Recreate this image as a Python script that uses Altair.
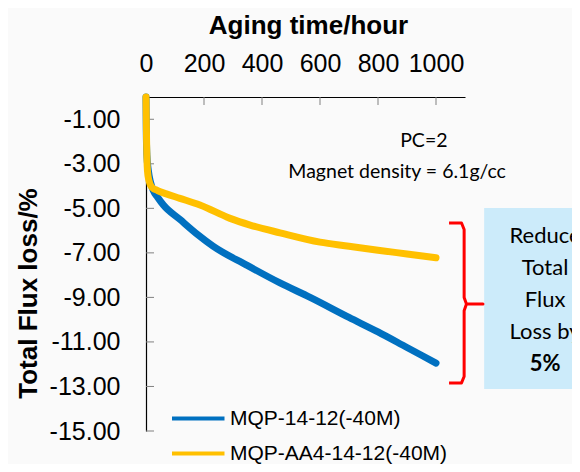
import altair as alt
import pandas as pd

# ---- data ----
series_names = ["MQP-14-12(-40M)", "MQP-AA4-14-12(-40M)"]
series_colors = ["#0070C0", "#FFC000"]

blue_hours = [0, 1, 3, 8, 15, 25, 40, 60, 117, 180, 231, 347, 462, 566, 700, 800, 900, 1000]
blue_loss = [0, -1.5, -2.6, -3.3, -3.8, -4.2, -4.5, -4.85, -5.5, -6.2, -6.7, -7.55, -8.35, -9.0, -9.9, -10.55, -11.25, -11.95]

yellow_hours = [0, 2, 5, 10, 20, 40, 70, 117, 186, 290, 359, 462, 600, 700, 800, 900, 1000]
yellow_loss = [0, -2.0, -3.3, -3.75, -4.05, -4.2, -4.35, -4.55, -4.85, -5.45, -5.75, -6.1, -6.52, -6.7, -6.88, -7.05, -7.22]

x_ticks = [0, 200, 400, 600, 800, 1000]
y_ticks = [-1, -3, -5, -7, -9, -11, -13, -15]

# annotations (data coordinates)
note_text = ["PC=2", "Magnet density = 6.1g/cc"]
note_x = [958, 866]
note_y = [-2.26, -3.65]

box_x = [1166]
box_x2 = [1520]
box_y = [-4.98]
box_y2 = [-13.11]

box_lines = ["Reduce", "Total", "Flux", "Loss by"]
box_lines_y = [-6.56, -7.99, -9.43, -10.87]
box_bold = ["5%"]
box_bold_y = [-12.30]
box_text_x = 1376

bracket_x = [1045, 1088, 1097, 1097, 1105, 1162, 1105, 1097, 1097, 1088, 1045]
bracket_y = [-5.66, -5.66, -5.95, -9.0, -9.30, -9.30, -9.30, -9.6, -12.55, -12.84, -12.84]

# ---- tables ----
df_blue = pd.DataFrame({"hour": blue_hours, "loss": blue_loss, "series": series_names[0]})
df_yellow = pd.DataFrame({"hour": yellow_hours, "loss": yellow_loss, "series": series_names[1]})

x_scale = alt.Scale(domain=[0, 1100], nice=False, zero=False)
y_scale = alt.Scale(domain=[-15, 0], nice=False, zero=False)

legend = alt.Legend(
    title=None, orient="none", legendX=24, legendY=309, direction="vertical",
    symbolType="M-1,0H4", symbolSize=441, symbolStrokeWidth=4,
    labelFont="Liberation Sans", labelFontSize=21, labelColor="black", labelLimit=400,
    labelOffset=35, rowPadding=12, padding=0,
)
color = alt.Color("series:N", scale=alt.Scale(domain=series_names, range=series_colors), legend=legend)

x_axis = alt.Axis(
    orient="top", values=x_ticks, format="d", title="Aging time/hour", ticks=False, labelFlush=False,
    labelFont="Liberation Sans", labelFontSize=25, labelColor="black", labelPadding=21,
    titleFont="Liberation Sans", titleFontSize=26, titleFontWeight="bold", titleColor="black",
    titleX=162, titleY=-64, titleBaseline="alphabetic", titleAlign="center",
    domainColor="black", domainWidth=1.2, grid=False,
)
y_axis = alt.Axis(
    values=y_ticks, title="Total Flux loss/%", ticks=False, labelFlush=False,
    labelExpr="replace(format(datum.value, '.2f'), '\u2212', '-')",
    labelFont="Liberation Sans", labelFontSize=25, labelColor="black", labelPadding=26,
    titleFont="Liberation Sans", titleFontSize=26, titleFontWeight="bold", titleColor="black",
    titleAngle=270, titleX=-118, titleY=196, titleBaseline="middle", titleAlign="center",
    domainColor="black", domainWidth=1.2, grid=False,
)


def X(field):
    return alt.X(field, scale=x_scale, axis=x_axis, title="Aging time/hour")


def Y(field):
    return alt.Y(field, scale=y_scale, axis=y_axis, title="Total Flux loss/%")


base_line = dict(strokeWidth=7, strokeCap="round", strokeJoin="round", interpolate="monotone")

blue = alt.Chart(df_blue).mark_line(**base_line).encode(x=X("hour:Q"), y=Y("loss:Q"), color=color)
yellow = alt.Chart(df_yellow).mark_line(**base_line).encode(x=X("hour:Q"), y=Y("loss:Q"), color=color)

xt = alt.Chart(pd.DataFrame({"hour": x_ticks[1:]})).mark_rule(color="#808080", strokeWidth=1).encode(
    x=X("hour:Q"), y=alt.value(0), y2=alt.value(8)
)
yt = alt.Chart(pd.DataFrame({"loss": y_ticks})).mark_rule(color="#808080", strokeWidth=1).encode(
    y=Y("loss:Q"), x=alt.value(0), x2=alt.value(8)
)

box = alt.Chart(pd.DataFrame({"x": box_x, "x2": box_x2, "y": box_y, "y2": box_y2})).mark_rect(
    color="#CCEBFA", clip=False
).encode(x=X("x:Q"), x2="x2:Q", y=Y("y:Q"), y2="y2:Q")

bracket = alt.Chart(pd.DataFrame({"x": bracket_x, "y": bracket_y, "o": list(range(len(bracket_x)))})).mark_line(
    color="#FF0000", strokeWidth=3, strokeJoin="round", clip=False
).encode(x=X("x:Q"), y=Y("y:Q"), order="o:Q")

notes = alt.Chart(pd.DataFrame({"t": note_text, "x": note_x, "y": note_y})).mark_text(
    font="Lato", fontSize=19.5, color="black", align="center", baseline="alphabetic", clip=False
).encode(x=X("x:Q"), y=Y("y:Q"), text="t:N")

box_txt = alt.Chart(pd.DataFrame({"t": box_lines, "y": box_lines_y, "x": box_text_x})).mark_text(
    font="Lato", fontSize=22, color="black", align="center", baseline="alphabetic", clip=False
).encode(x=X("x:Q"), y=Y("y:Q"), text="t:N")

box_txt_b = alt.Chart(pd.DataFrame({"t": box_bold, "y": box_bold_y, "x": box_text_x})).mark_text(
    font="Lato", fontSize=22, fontWeight="bold", color="black", align="center", baseline="alphabetic", clip=False
).encode(x=X("x:Q"), y=Y("y:Q"), text="t:N")

chart = alt.layer(box, bracket, notes, box_txt, box_txt_b, xt, yt, blue, yellow).properties(
    width=319, height=334,
    autosize=alt.AutoSizeParams(type="none"),
    padding={"left": 138, "top": 89, "right": 107, "bottom": 33},
    background="#FAFAFA",
).configure_view(stroke=None)

chart.save("out.html", embed_options={"renderer": "svg", "actions": False})
